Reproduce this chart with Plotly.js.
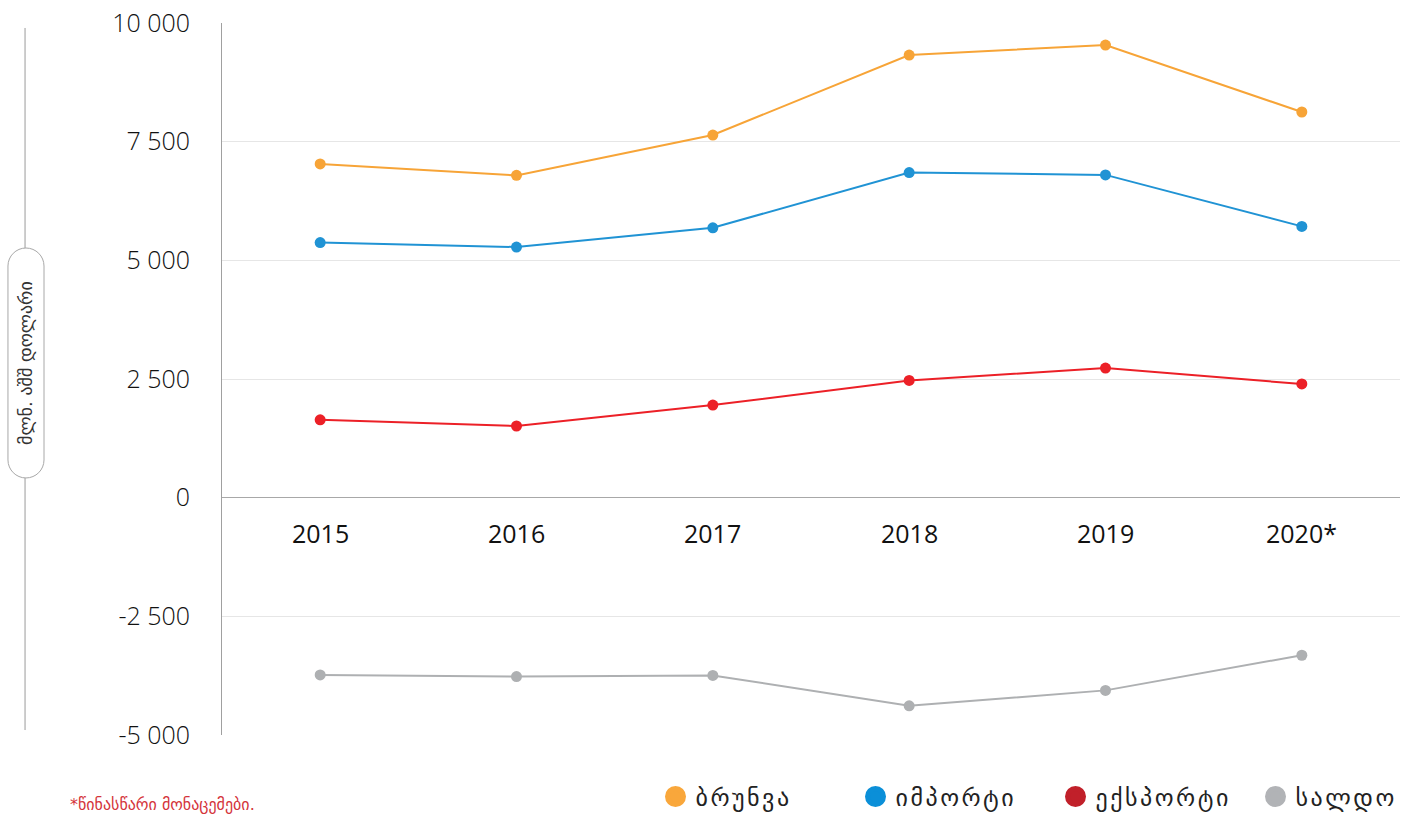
<!DOCTYPE html>
<html>
<head>
<meta charset="utf-8">
<script src="https://cdn.plot.ly/plotly-3.0.1.min.js"></script>
<style>
html,body{margin:0;padding:0;background:#fff;}
#chart{width:1419px;height:814px;}
.legendtext{letter-spacing:2.5px;}
</style>
</head>
<body>
<div id="chart"></div>
<script>
const years = ["2015", "2016", "2017", "2018", "2019", "2020*"];
const turnover = [7030, 6790, 7640, 9325, 9535, 8125];
const imports = [5375, 5280, 5685, 6850, 6800, 5715];
const exports = [1640, 1510, 1950, 2470, 2730, 2395];
const balance = [-3735, -3770, -3745, -4385, -4060, -3320];
const seriesNames = ["ბრუნვა", "იმპორტი", "ექსპორტი", "სალდო"];
const lineColors = ["#f7a437", "#2093d4", "#ec2027", "#aeb0b2"];
const legendColors = ["#f9a73b", "#0b8fd8", "#c1202a", "#b1b3b6"];
const yTickVals = [-5000, -2500, 0, 2500, 5000, 7500, 10000];
const yTickText = ["-5 000", "-2 500", "0", "2 500", "5 000", "7 500", "10 000"];
const yTitle = "მლნ. აშშ დოლარი";
const footnote = "*წინასწარი მონაცემები.";

const xIdx = years.map((_, i) => i);
const allSeries = [turnover, imports, exports, balance];
const traces = [];
allSeries.forEach((vals, k) => {
  traces.push({
    x: xIdx, y: vals, type: "scatter", mode: "lines+markers",
    line: {color: lineColors[k], width: 2},
    marker: {color: lineColors[k], size: 11},
    showlegend: false, hoverinfo: "skip"
  });
});
seriesNames.forEach((n, k) => {
  traces.push({
    x: [null], y: [null], type: "scatter", mode: "markers", name: n,
    marker: {color: legendColors[k], size: 24, line: {color: legendColors[k], width: 5}},
    showlegend: true
  });
});

const yearAnnotations = years.map((yr, i) => ({
  x: i, y: 0, xref: "x", yref: "y", text: yr, showarrow: false,
  yanchor: "top", yshift: -16,
  font: {family: "Open Sans, Noto Sans, sans-serif", size: 25, color: "#111", weight: 500}
}));

// rounded box for y title (paper coords)
const bx0 = -0.1817, bx1 = -0.1511, by0 = 0.361, by1 = 0.684;
const rx = 0.0153, ry = 0.0253;
const boxPath = `M ${bx0},${by0+ry} L ${bx0},${by1-ry} C ${bx0},${by1-ry*0.45} ${bx0+rx*0.45},${by1} ${bx0+rx},${by1} C ${bx1-rx*0.45},${by1} ${bx1},${by1-ry*0.45} ${bx1},${by1-ry} L ${bx1},${by0+ry} C ${bx1},${by0+ry*0.45} ${bx1-rx*0.45},${by0} ${bx1-rx},${by0} C ${bx0+rx*0.45},${by0} ${bx0},${by0+ry*0.45} ${bx0},${by0+ry} Z`;

const layout = {
  width: 1419, height: 814,
  margin: {l: 222, r: 19, t: 23, b: 79, autoexpand: false},
  paper_bgcolor: "#fff", plot_bgcolor: "#fff",
  showlegend: true,
  xaxis: {
    range: [-0.5, 5.5], showticklabels: false, showgrid: false, zeroline: false,
    showline: false, fixedrange: true
  },
  yaxis: {
    range: [-5000, 10000], tickvals: yTickVals, ticktext: yTickText,
    showgrid: true, gridcolor: "#e6e6e6", gridwidth: 1,
    zeroline: true, zerolinecolor: "#a8a8a8", zerolinewidth: 1,
    showline: true, linecolor: "#a0a0a0", linewidth: 1,
    ticks: "", ticklabelstandoff: 26,
    tickfont: {family: "Open Sans, Noto Sans, sans-serif", size: 25, color: "#111", weight: 300}
  },
  legend: {
    orientation: "h", x: 0.368, xanchor: "left", y: -0.087, yanchor: "middle",
    font: {family: "DejaVu Sans, sans-serif", size: 24, color: "#222"},
    itemsizing: "trace", tracegroupgap: 0, itemwidth: 30,
    entrywidth: 155, entrywidthmode: "pixels"
  },
  shapes: [
    {type: "line", xref: "paper", yref: "paper", x0: -0.1672, x1: -0.1672, y0: 0.007, y1: 0.993,
     line: {color: "#9a9a9a", width: 1}, layer: "below"},
    {type: "path", xref: "paper", yref: "paper", path: boxPath,
     fillcolor: "#ffffff", line: {color: "#a8a8a8", width: 1}, layer: "above"}
  ],
  annotations: yearAnnotations.concat([
    {x: -0.1664, y: 0.5225, xref: "paper", yref: "paper", text: yTitle, showarrow: false,
     textangle: -90, xanchor: "center", yanchor: "middle",
     font: {family: "DejaVu Sans, sans-serif", size: 18, color: "#333"}},
    {x: -0.1307, y: -0.098, xref: "paper", yref: "paper", text: footnote, showarrow: false,
     xanchor: "left", yanchor: "middle",
     font: {family: "DejaVu Sans, sans-serif", size: 16, color: "#d4343b"}}
  ])
};

Plotly.newPlot("chart", traces, layout, {displayModeBar: false, staticPlot: true});
</script>
</body>
</html>
